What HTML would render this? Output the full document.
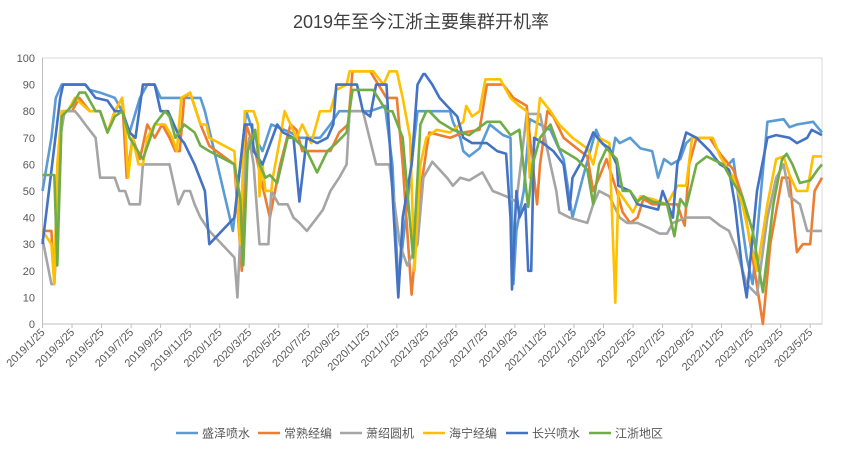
<!DOCTYPE html>
<html><head><meta charset="utf-8"><style>
html,body{margin:0;padding:0;background:#fff;}
svg{display:block;font-family:"Liberation Sans","Noto Sans CJK SC",sans-serif;}
</style></head><body>
<svg id="chart" width="841" height="453" viewBox="0 0 841 453" xmlns="http://www.w3.org/2000/svg">
<rect x="0" y="0" width="841" height="453" fill="#fff"/>
<text x="421" y="28" text-anchor="middle" font-size="18" fill="#404040">2019年至今江浙主要集群开机率</text>
<g id="grid"></g><g id="axes"></g><g id="series"></g><g id="legend"></g>
</svg>
<script>
const seriesNames = ["盛泽喷水","常熟经编","萧绍圆机","海宁经编","长兴喷水","江浙地区"];
const seriesColors = ["#5B9BD5","#ED7D31","#A5A5A5","#FFC000","#4472C4","#70AD47"];
const xTickLabels = ["2019/1/25","2019/3/25","2019/5/25","2019/7/25","2019/9/25","2019/11/25","2020/1/25","2020/3/25","2020/5/25","2020/7/25","2020/9/25","2020/11/25","2021/1/25","2021/3/25","2021/5/25","2021/7/25","2021/9/25","2021/11/25","2022/1/25","2022/3/25","2022/5/25","2022/7/25","2022/9/25","2022/11/25","2023/1/25","2023/3/25","2023/5/25"];
const yTicks = [0,10,20,30,40,50,60,70,80,90,100];
// x = months since 2019/1/25, y = rate (%)
const shengze = [[0,50],[0.6,70],[0.9,85],[1.3,90],[2.9,90],[3.2,88],[3.9,87],[4.4,86],[4.9,85],[5.4,80],[5.9,72],[6.6,85],[7.1,90],[7.6,90],[8.0,85],[10.7,85],[11.0,80],[12.9,35],[13.8,80],[14.4,70],[14.9,65],[15.5,75],[16.8,72],[17.4,70],[18.8,70],[19.5,75],[20.1,80],[22.2,80],[23.2,82],[23.7,60],[24.1,15],[24.6,40],[25.4,80],[27.6,80],[27.8,76],[28.3,70],[28.5,65],[28.9,63],[29.6,66],[30.3,75],[31.2,71],[31.7,70],[31.9,15],[32.1,35],[32.6,50],[33.0,77],[33.7,75],[34.4,73],[35.3,62],[35.9,40],[36.6,55],[37.5,73],[37.9,68],[38.6,64],[38.8,70],[39.1,68],[39.8,70],[40.5,66],[41.3,65],[41.7,55],[42.1,62],[42.6,60],[43.2,62],[43.6,68],[44.0,70],[45.2,70],[45.9,64],[46.3,59],[46.8,62],[47.2,45],[47.7,25],[48.1,15],[49.1,76],[50.2,77],[50.6,74],[51.1,75],[52.2,76],[52.8,72]];
const changshu = [[0,35],[0.6,35],[0.8,15],[1.2,60],[1.3,80],[2.0,80],[2.5,85],[3.2,80],[3.9,80],[4.4,72],[4.9,80],[5.4,85],[5.7,55],[6.1,70],[6.6,62],[7.1,75],[7.6,70],[8.1,75],[8.6,70],[9.0,65],[9.3,65],[9.6,85],[10.0,87],[10.7,75],[11.3,67],[13.0,60],[13.5,20],[13.8,75],[14.4,65],[14.9,52],[15.4,40],[16.1,60],[16.8,75],[17.2,73],[17.6,65],[18.6,65],[19.5,65],[20.1,72],[20.7,75],[21.0,95],[22.2,95],[23.3,85],[24.0,85],[24.4,60],[25.0,11],[25.6,50],[26.0,65],[26.2,72],[27.6,70],[28.5,72],[29.6,73],[30.1,90],[31.2,90],[31.9,85],[32.8,82],[33.2,60],[33.5,45],[33.7,60],[34.2,80],[34.6,78],[35.3,70],[36.2,66],[36.9,63],[37.3,50],[37.7,55],[38.2,62],[38.9,50],[39.3,42],[39.8,38],[40.3,40],[40.7,47],[41.3,45],[43.0,45],[43.3,40],[43.5,37],[43.8,60],[44.3,70],[45.2,70],[45.9,64],[46.8,58],[47.4,48],[48.1,25],[48.8,0],[49.3,30],[50.1,55],[50.6,55],[51.1,27],[51.5,30],[52.0,30],[52.3,50],[52.8,55]];
const xiaoshao = [[0,32],[0.6,15],[0.8,15],[1.2,70],[1.5,80],[2.2,80],[2.5,78],[2.9,75],[3.6,70],[3.9,55],[4.9,55],[5.2,50],[5.6,50],[5.9,45],[6.6,45],[6.8,60],[8.6,60],[9.0,50],[9.2,45],[9.6,50],[10.0,50],[10.3,45],[10.7,40],[11.3,35],[13.0,25],[13.2,10],[13.5,45],[13.7,60],[14.0,70],[14.3,60],[14.7,30],[15.3,30],[15.5,50],[16.0,45],[16.6,45],[17.0,40],[17.4,38],[17.9,35],[18.6,40],[19.0,43],[19.5,50],[20.1,55],[20.6,60],[20.8,80],[21.7,80],[22.6,60],[23.5,60],[24.2,30],[24.7,22],[25.4,30],[25.8,55],[26.4,61],[27.4,55],[27.8,52],[28.3,55],[28.9,54],[29.8,57],[30.5,50],[31.4,48],[32.1,46],[32.8,79],[33.7,79],[34.4,60],[34.8,50],[35.0,42],[35.7,40],[36.9,38],[37.3,45],[37.7,50],[38.4,48],[39.1,40],[39.6,38],[40.3,38],[41.1,36],[41.8,34],[42.3,34],[42.7,38],[43.6,40],[45.2,40],[45.9,37],[46.5,35],[47.0,28],[47.7,15],[48.4,11],[49.1,40],[49.7,55],[50.2,60],[50.6,48],[51.3,45],[51.8,35],[52.8,35]];
const haining = [[0,35],[0.6,30],[0.8,15],[1.0,60],[1.3,80],[1.7,80],[2.2,85],[3.2,80],[3.9,80],[4.4,72],[4.9,80],[5.4,85],[5.6,75],[5.8,55],[6.1,70],[6.5,60],[6.8,60],[7.1,70],[7.6,75],[8.3,75],[8.8,70],[9.1,65],[9.4,85],[10.0,87],[10.3,82],[10.7,75],[11.1,75],[11.3,70],[13.0,65],[13.4,30],[13.7,80],[14.3,80],[14.6,75],[14.9,60],[15.1,50],[15.5,50],[14.7,48],[15.6,55],[16.1,70],[16.4,80],[16.8,75],[17.2,70],[17.6,75],[18.2,68],[18.8,80],[19.5,80],[19.9,88],[20.6,90],[20.8,95],[22.4,95],[23.1,90],[23.5,95],[24.0,95],[24.4,85],[24.9,70],[25.2,20],[25.6,60],[26.0,70],[26.7,73],[27.6,72],[28.5,76],[28.7,82],[29.1,78],[29.6,80],[30.0,92],[31.0,92],[31.7,85],[32.3,82],[32.8,80],[33.0,55],[33.5,75],[33.7,85],[34.4,80],[35.0,75],[35.9,70],[36.9,66],[37.3,60],[37.7,70],[38.4,68],[38.8,8],[39.0,50],[40.0,42],[40.5,48],[41.3,47],[42.3,45],[43.0,52],[43.6,52],[44.0,70],[45.4,70],[45.9,63],[46.8,55],[47.4,45],[48.4,20],[49.1,45],[49.7,62],[50.2,63],[50.6,56],[51.1,50],[51.8,50],[52.2,63],[52.8,63]];
const changxing = [[0,30],[1.2,85],[1.4,90],[2.9,90],[3.6,85],[4.4,84],[4.9,80],[5.4,80],[5.9,72],[6.3,70],[6.8,90],[7.6,90],[8.0,80],[8.5,80],[9.3,70],[9.6,68],[10.3,60],[11.0,50],[11.3,30],[13.0,40],[13.7,75],[14.2,75],[14.3,65],[14.9,60],[15.9,75],[16.3,72],[17.0,70],[17.4,46],[17.9,70],[18.6,68],[19.3,70],[19.7,75],[19.9,90],[21.3,90],[21.7,80],[22.2,78],[22.6,90],[23.3,90],[23.7,50],[24.1,10],[24.4,40],[25.0,60],[25.4,90],[25.8,94],[25.9,94],[26.4,90],[26.9,85],[27.4,82],[28.1,78],[28.5,70],[29.1,68],[30.1,68],[30.8,65],[31.4,64],[31.7,40],[31.8,13],[32.1,50],[32.3,40],[32.7,45],[32.9,20],[33.1,20],[33.3,70],[33.9,68],[34.6,65],[35.3,60],[35.7,43],[35.9,55],[36.6,62],[37.3,72],[37.9,68],[38.4,66],[38.9,60],[39.0,52],[39.8,50],[40.3,45],[41.7,43],[42.0,50],[42.7,40],[43.0,60],[43.6,72],[44.3,70],[45.2,65],[45.9,60],[46.5,58],[46.9,45],[47.4,20],[47.7,10],[48.4,50],[49.1,70],[49.7,71],[50.6,70],[51.1,68],[51.8,70],[52.1,73],[52.8,71]];
const jiangzhe = [[0,56],[0.8,56],[1.0,22],[1.3,78],[2.0,82],[2.5,87],[2.9,87],[3.6,80],[3.9,80],[4.4,72],[4.9,78],[5.4,80],[5.9,70],[6.8,62],[7.3,70],[7.6,75],[8.3,80],[8.6,78],[9.0,70],[9.6,75],[10.3,72],[10.7,67],[11.3,65],[13.0,60],[13.4,47],[13.6,22],[13.9,65],[14.4,73],[14.7,60],[15.1,55],[15.4,56],[15.9,53],[16.6,70],[17.0,70],[17.9,65],[18.6,57],[19.3,65],[19.9,68],[20.6,72],[21.0,88],[22.4,88],[23.3,80],[23.7,80],[24.4,70],[25.1,25],[25.6,75],[26.0,80],[26.2,80],[26.9,76],[27.8,73],[28.9,71],[30.1,76],[31.0,76],[31.7,71],[32.3,73],[32.9,44],[33.2,60],[33.7,70],[34.4,75],[35.0,66],[36.2,62],[36.9,58],[37.3,45],[37.7,60],[38.2,66],[38.9,62],[39.3,50],[39.8,50],[40.3,46],[40.7,48],[41.3,46],[42.3,45],[42.8,33],[43.2,47],[43.6,44],[44.3,60],[45.0,63],[46.1,60],[46.8,53],[47.4,48],[48.1,35],[48.8,12],[49.5,45],[50.1,62],[50.4,64],[50.8,60],[51.3,53],[52.0,54],[52.5,58],[52.8,60]];
const allSeries = [shengze, changshu, xiaoshao, haining, changxing, jiangzhe];

const NS = "http://www.w3.org/2000/svg";
const PL = 42.5, PR = 822, PT = 58, PB = 324, XMAX = 52.8;
function xScale(m){ return PL + (PR - PL) * m / XMAX; }
function yScale(v){ return PB - (PB - PT) * v / 100; }
function mk(tag, attrs){ const e = document.createElementNS(NS, tag); for (const k in attrs) e.setAttribute(k, attrs[k]); return e; }

const grid = document.getElementById('grid');
const frame = mk('rect', {x:PL, y:PT, width:PR-PL, height:PB-PT, fill:'none', stroke:'#D9D9D9', 'stroke-width':1});


grid.appendChild(frame);

const axes = document.getElementById('axes');
const yAxis = mk('line', {x1:PL, y1:PT, x2:PL, y2:PB, stroke:'#BFBFBF'});


axes.appendChild(yAxis);
const xAxis = mk('line', {x1:PL, y1:PB, x2:PR, y2:PB, stroke:'#BFBFBF'});


axes.appendChild(xAxis);

yTicks.forEach(v => {
  const t = mk('text', {x:35, y:yScale(v)+4, 'text-anchor':'end', 'font-size':11, fill:'#595959'});
  t.textContent = v;
  
  
  axes.appendChild(t);
});
xTickLabels.forEach((lab, i) => {
  const x = xScale(i * 2);
  const tk = mk('line', {x1:x, y1:PB, x2:x, y2:PB+4, stroke:'#BFBFBF'});
  
  
  axes.appendChild(tk);
  const t = mk('text', {x:x+3, y:PB+9, 'text-anchor':'end', 'font-size':11, fill:'#595959', transform:`rotate(-45 ${x+3} ${PB+9})`});
  t.textContent = lab;
  
  
  axes.appendChild(t);
});

const sg = document.getElementById('series');
allSeries.forEach((data, si) => {
  const pts = data.slice().sort((a,b)=>a[0]-b[0]).map(p => xScale(p[0]).toFixed(1) + ',' + yScale(p[1]).toFixed(1)).join(' ');
  const pl = mk('polyline', {points:pts, fill:'none', stroke:seriesColors[si], 'stroke-width':2.6, 'stroke-linejoin':'round'});
  
  
  sg.appendChild(pl);
});

const lg = document.getElementById('legend');
const legendX = [176, 258, 340, 423, 506, 589];
seriesNames.forEach((n, i) => {
  const g = mk('g', {});
  
  
  g.appendChild(mk('line', {x1:legendX[i], y1:433, x2:legendX[i]+22, y2:433, stroke:seriesColors[i], 'stroke-width':2.6}));
  const t = mk('text', {x:legendX[i]+26, y:437.5, 'font-size':12, fill:'#595959'});
  t.textContent = n;
  g.appendChild(t);
  lg.appendChild(g);
});
</script>
</body></html>
